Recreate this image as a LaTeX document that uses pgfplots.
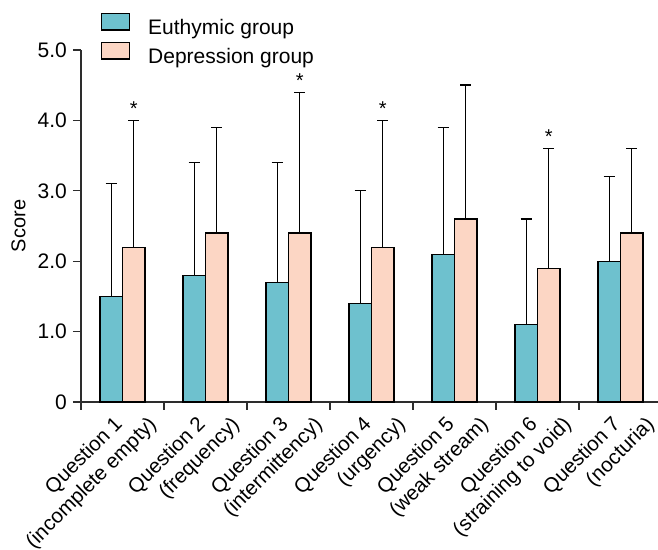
\documentclass[border=0pt]{standalone}
\usepackage{pgfplots}
\pgfplotsset{compat=1.18}
\usepackage{fontspec}
\setmainfont{Liberation Sans}
\definecolor{teal1}{RGB}{110,193,206}
\definecolor{pink1}{RGB}{252,214,196}
\definecolor{axgray}{RGB}{45,45,45}

\pgfplotstableread{
x  m    e
0  1.5  1.6
1  1.8  1.6
2  1.7  1.7
3  1.4  1.6
4  2.1  1.8
5  1.1  1.5
6  2.0  1.2
}\euthymic
\pgfplotstableread{
x  m    e
0  2.2  1.8
1  2.4  1.5
2  2.4  2.0
3  2.2  1.8
4  2.6  1.9
5  1.9  1.7
6  2.4  1.2
}\depression

\begin{document}
\begin{tikzpicture}
\begin{axis}[
  name=ax,
  scale only axis, width=577pt, height=352pt,
  xmin=-0.5, xmax=6.452, ymin=0, ymax=5,
  axis x line=bottom, axis y line=left,
  axis line style={-, line width=1.3pt, color=axgray},
  ybar, bar width=22.5pt,
  ytick={0,1,2,3,4,5}, yticklabels={0,1.0,2.0,3.0,4.0,5.0},
  tick align=outside, major tick length=8pt, minor tick length=8pt,
  tick style={line width=1.3pt, color=axgray},
  xtick={0,1,2,3,4,5,6},
  xticklabels={Question 1,Question 2,Question 3,Question 4,Question 5,Question 6,Question 7},
  minor xtick={-0.5,0.5,1.5,2.5,3.5,4.5,5.5,6.5},
  major x tick style={draw=none},
  extra x ticks={0,1,2,3,4,5,6},
  extra x tick labels={(incomplete empty),(frequency),(intermittency),(urgency),(weak stream),(straining to void),(nocturia)},
  extra x tick style={major x tick style={draw=none}, xticklabel style={xshift=23.4pt, yshift=-24.8pt}},
  xticklabel style={rotate=45, anchor=east, inner sep=0pt, xshift=-9.9pt, yshift=-5.6pt, font=\fontsize{20.5}{24}\selectfont},
  yticklabel style={anchor=east, inner sep=0pt, xshift=-6pt, font=\fontsize{21}{25}\selectfont},
  ylabel={Score},
  ylabel style={at={(axis description cs:-0.1083,0.5)}, anchor=center, inner sep=0pt, font=\fontsize{20}{24}\selectfont},
  legend style={at={(0.03466,1.1051)}, anchor=north west, draw=none, fill=none,
    inner sep=0pt, outer sep=0pt, row sep=2.5pt,
    font=\fontsize{21}{25}\selectfont,
    nodes={inner sep=0pt, text height=15pt, text depth=4.5pt},
    /tikz/every odd column/.append style={column sep=18pt}},
  legend cell align=left,
  clip=false,
]
\addplot[fill=teal1, draw=black, line width=1.2pt, bar shift=-11.25pt,
  error bars/.cd, y dir=plus, y explicit,
  error bar style={line width=1.4pt, draw=black, solid},
  error mark options={rotate=90, mark size=5.5pt, line width=1.4pt, black},
  /pgfplots/.cd,
  legend image code/.code={\draw[fill=teal1, draw=black, line width=1.2pt] (0pt,-0.5pt) rectangle (28pt,16pt);}]
  table[x=x, y=m, y error=e] {\euthymic};
\addlegendentry{Euthymic group}
\addplot[fill=pink1, draw=black, line width=1.2pt, bar shift=11.25pt,
  error bars/.cd, y dir=plus, y explicit,
  error bar style={line width=1.4pt, draw=black, solid},
  error mark options={rotate=90, mark size=5.5pt, line width=1.4pt, black},
  /pgfplots/.cd,
  legend image code/.code={\draw[fill=pink1, draw=black, line width=1.2pt] (0pt,-0.5pt) rectangle (28pt,16pt);}]
  table[x=x, y=m, y error=e] {\depression};
\addlegendentry{Depression group}
\node[anchor=base, font=\fontsize{20}{24}\selectfont, xshift=11.25pt, yshift=5pt] at (axis cs:0,4.0) {*};
\node[anchor=base, font=\fontsize{20}{24}\selectfont, xshift=11.25pt, yshift=5pt] at (axis cs:2,4.4) {*};
\node[anchor=base, font=\fontsize{20}{24}\selectfont, xshift=11.25pt, yshift=5pt] at (axis cs:3,4.0) {*};
\node[anchor=base, font=\fontsize{20}{24}\selectfont, xshift=11.25pt, yshift=5pt] at (axis cs:5,3.6) {*};
\end{axis}
\pgfresetboundingbox
\path ([xshift=-81pt,yshift=-148pt]ax.south west) rectangle ([yshift=50pt]ax.north east);
\end{tikzpicture}
\end{document}
